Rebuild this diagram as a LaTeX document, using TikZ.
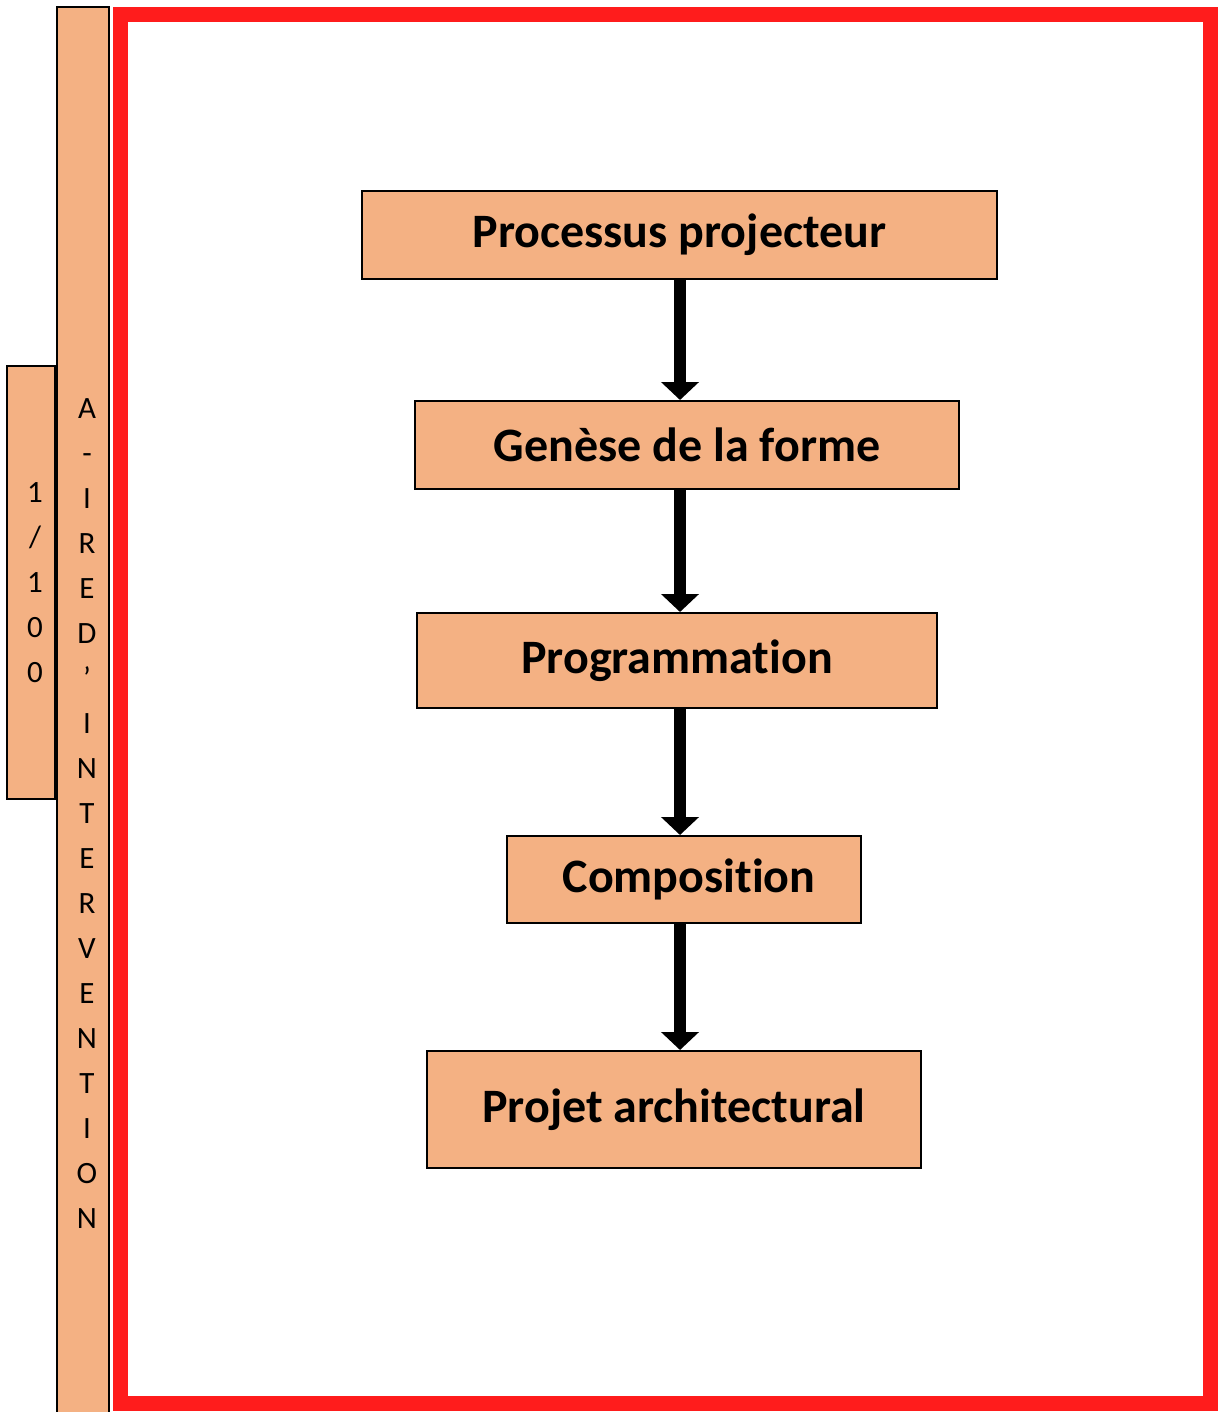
\documentclass[tikz,border=0pt]{standalone}
\usepackage{fontspec}
\setmainfont{Carlito}[Ligatures=NoCommon]
\usetikzlibrary{arrows.meta}
\definecolor{peach}{HTML}{F4B183}
\definecolor{framered}{HTML}{FF1C1C}

\begin{document}
\begin{tikzpicture}[x=0.5pt,y=-0.5pt,
	stagebox/.style={draw=black,line width=1pt,fill=peach,inner sep=0pt,font=\fontsize{24}{28}\selectfont\bfseries},
	flow/.style={line width=6pt,-{Triangle[width=18.5pt,length=9pt]}},
	letter/.style={inner sep=0pt,anchor=base,font=\fontsize{15.5}{18}\selectfont}]
	\useasboundingbox (0,0) rectangle (1219,1412);
	% frame and side strips
	\draw[framered,line width=7.5pt] (120.5,14.5) rectangle (1210.5,1403.5);
	\draw[fill=peach,line width=1pt] (57,7) rectangle (109,1430);
	\draw[fill=peach,line width=1pt] (7,366) rectangle (55,799);
	\foreach \ch [count=\i from 0] in {A,-,I,R,E,D,’,I,N,T,E,R,V,E,N,T,I,O,N}
		\node[letter](aire\i) at (87,{418+45*\i}){\ch};
	\foreach \ch [count=\i from 0] in {1,/,1,0,0}
		\node[letter](scale\i) at (35,{502+45*\i}){\ch};
	% steps
	\node[stagebox,minimum width=317.5pt,minimum height=44pt](proc) at (679.5,235){Processus projecteur};
	\node[stagebox,minimum width=272pt,minimum height=44pt](gen) at (687,445){Genèse de la forme};
	\node[stagebox,minimum width=260pt,minimum height=47.5pt](prog) at (677,660.5){Programmation};
	\node[stagebox,minimum width=177pt,minimum height=43.5pt](comp) at (684,879.5){\hspace{5pt}Composition};
	\node[stagebox,minimum width=247pt,minimum height=58.5pt](proj) at (674,1109.5){Projet architectural};
	\coordinate (axis) at (680,0);
	\draw[flow] (proc.south -| axis) -- (gen.north -| axis);
	\draw[flow] (gen.south -| axis) -- (prog.north -| axis);
	\draw[flow] (prog.south -| axis) -- (comp.north -| axis);
	\draw[flow] (comp.south -| axis) -- (proj.north -| axis);
\end{tikzpicture}
\end{document}
